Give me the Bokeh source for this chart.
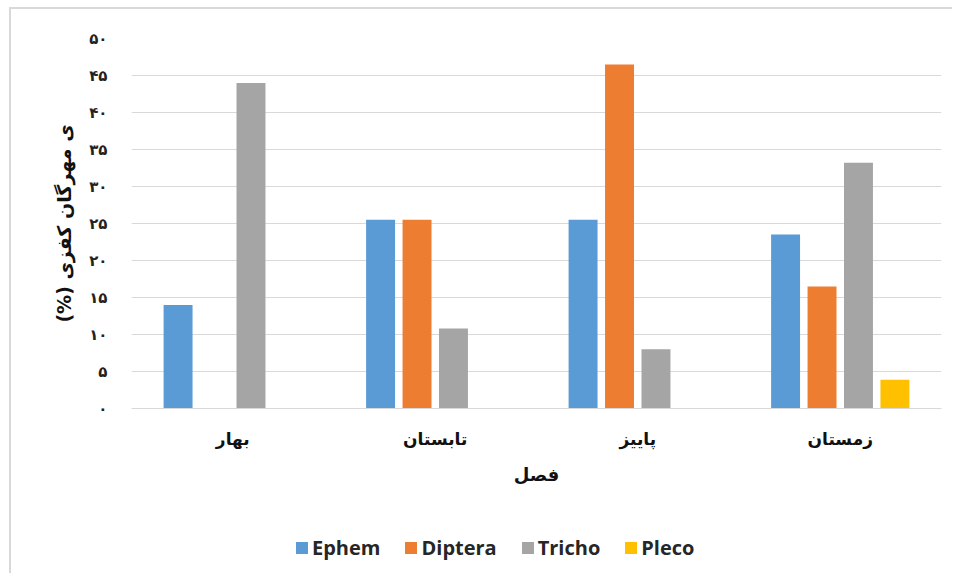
from bokeh.plotting import figure
from bokeh.models import FactorRange, Range1d, FixedTicker, Legend, LegendItem, ColumnDataSource
from bokeh.layouts import column
from bokeh.transform import dodge
from bokeh.embed import file_html
from bokeh.resources import INLINE

seasons = ["بهار", "تابستان", "پاییز", "زمستان"]
series_names = ["Ephem", "Diptera", "Tricho", "Pleco"]
ephem = [14.0, 25.5, 25.5, 23.5]
diptera = [0.0, 25.5, 46.5, 16.5]
tricho = [44.0, 10.8, 8.0, 33.2]
pleco = [0.0, 0.0, 0.0, 3.9]
y_ticks = [0, 5, 10, 15, 20, 25, 30, 35, 40, 45, 50]
y_tick_labels = ["۰", "۵", "۱۰", "۱۵", "۲۰", "۲۵", "۳۰", "۳۵", "۴۰", "۴۵", "۵۰"]
x_title = "فصل"
y_title = "(%) ی مهرگان کفزی"
colors = ["#5B9BD5", "#ED7D31", "#A5A5A5", "#FFC000"]

source = ColumnDataSource(data=dict(season=seasons, Ephem=ephem, Diptera=diptera,
                                    Tricho=tricho, Pleco=pleco))

p = figure(x_range=FactorRange(*seasons), y_range=Range1d(0, 50),
           width=941, height=504, output_backend="svg", toolbar_location=None,
           min_border_left=120, min_border_right=11, min_border_top=29,
           min_border_bottom=105)
p.x_range.range_padding = 0
p.outline_line_color = None
p.background_fill_color = "white"
p.border_fill_color = "white"

offsets = [-0.27, -0.09, 0.09, 0.27]
for name, off, col in zip(series_names, offsets, colors):
    p.vbar(x=dodge("season", off, range=p.x_range), top=name, width=0.143,
           source=source, fill_color=col, line_color=None)

p.xgrid.grid_line_color = None
p.ygrid.grid_line_color = "#d9d9d9"
p.ygrid.grid_line_width = 1

p.yaxis.ticker = FixedTicker(ticks=y_ticks)
p.yaxis.major_label_overrides = {t: l for t, l in zip(y_ticks, y_tick_labels)}
p.yaxis.axis_line_color = None
p.yaxis.major_tick_line_color = None
p.yaxis.minor_tick_line_color = None
p.yaxis.major_label_standoff = 18
p.yaxis.major_label_text_font = "DejaVu Sans"
p.yaxis.major_label_text_font_style = "bold"
p.yaxis.major_label_text_font_size = "15px"
p.yaxis.major_label_text_color = "#222222"
p.yaxis.axis_label = y_title
p.yaxis.axis_label_text_font = "DejaVu Sans"
p.yaxis.axis_label_text_font_style = "bold"
p.yaxis.axis_label_text_font_size = "19px"
p.yaxis.axis_label_text_color = "#111111"
p.yaxis.axis_label_standoff = 11

p.xaxis.axis_line_color = "#d9d9d9"
p.xaxis.major_tick_line_color = None
p.xaxis.minor_tick_line_color = None
p.xaxis.major_label_standoff = 14
p.xaxis.major_label_text_font = "DejaVu Sans"
p.xaxis.major_label_text_font_style = "bold"
p.xaxis.major_label_text_font_size = "17px"
p.xaxis.major_label_text_color = "#111111"
p.xaxis.axis_label = x_title
p.xaxis.axis_label_text_font = "DejaVu Sans"
p.xaxis.axis_label_text_font_style = "bold"
p.xaxis.axis_label_text_font_size = "18px"
p.xaxis.axis_label_text_color = "#111111"
p.xaxis.axis_label_standoff = 12

# legend strip below the chart (legend swatches only; its renderers stay hidden)
pl = figure(width=941, height=60, output_backend="svg", toolbar_location=None,
            x_range=p.x_range, y_range=Range1d(-2, -1),
            min_border_left=0, min_border_right=0, min_border_top=0, min_border_bottom=0)
pl.axis.visible = False
pl.grid.grid_line_color = None
pl.outline_line_color = None
pl.background_fill_color = "white"
pl.border_fill_color = "white"
items = []
for name, off, col in zip(series_names, offsets, colors):
    r = pl.vbar(x=dodge("season", off, range=pl.x_range), top=name, width=0.143,
                source=source, fill_color=col, line_color=None, visible=False)
    items.append(LegendItem(label=name, renderers=[r]))

legend = Legend(items=items, orientation="horizontal", location=(163, 12))
legend.border_line_color = None
legend.background_fill_alpha = 0
legend.inactive_fill_alpha = 0
legend.label_text_font = "Open Sans"
legend.label_text_font_style = "bold"
legend.label_text_font_size = "20px"
legend.label_text_color = "#262626"
legend.glyph_width = 15
legend.glyph_height = 15
legend.label_standoff = 3
legend.spacing = 23
legend.padding = 0
legend.margin = 0
pl.add_layout(legend)

layout = column(p, pl, spacing=0)
layout.styles = {"border-left": "2px solid #d9d9d9", "border-top": "2px solid #d9d9d9",
                 "margin-left": "9px", "margin-top": "7px"}
open("out.html", "w").write(file_html(layout, INLINE))
